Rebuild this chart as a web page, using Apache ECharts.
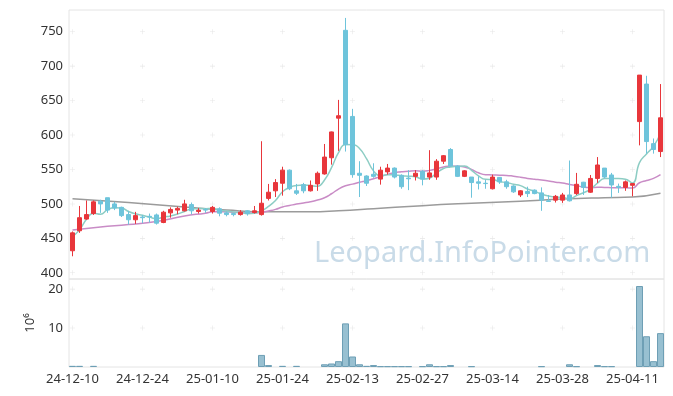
<!DOCTYPE html>
<html><head><meta charset="utf-8">
<script src="https://cdn.jsdelivr.net/npm/echarts@6/dist/echarts.min.js"></script>
<style>html,body{margin:0;padding:0;background:#fff}#c{width:673px;height:396px}</style>
</head><body><div id="c"></div>
<script>
const dates = ['24-12-10','24-12-11','24-12-12','24-12-13','24-12-16','24-12-17','24-12-18','24-12-19','24-12-20','24-12-23',
'24-12-24','24-12-26','24-12-27','24-12-30','25-01-02','25-01-03','25-01-06','25-01-07','25-01-08','25-01-09',
'25-01-10','25-01-13','25-01-14','25-01-15','25-01-16','25-01-17','25-01-20','25-01-21','25-01-22','25-01-23',
'25-01-24','25-01-31','25-02-03','25-02-04','25-02-05','25-02-06','25-02-07','25-02-10','25-02-11','25-02-12',
'25-02-13','25-02-14','25-02-17','25-02-18','25-02-19','25-02-20','25-02-21','25-02-24','25-02-25','25-02-26',
'25-02-27','25-02-28','25-03-04','25-03-05','25-03-06','25-03-07','25-03-10','25-03-11','25-03-12','25-03-13',
'25-03-14','25-03-17','25-03-18','25-03-19','25-03-20','25-03-21','25-03-24','25-03-25','25-03-26','25-03-27',
'25-03-28','25-03-31','25-04-01','25-04-02','25-04-03','25-04-04','25-04-07','25-04-08','25-04-09','25-04-10',
'25-04-11','25-04-14','25-04-15','25-04-16','25-04-17'];

const opens = [432,461,478,486,504,509,500,495,484.5,477,
481,482,484,473,487,491,490,499,489,492,
489,493,487,486,484.5,490,487.5,484.5,508,519,
530,549,519,528,519,529,543.5,567,624.5,752,
627,544.5,540.5,543,536,546.5,552,541.5,537.5,540,
547.5,539,539,562,579,555,540,539,532,530,
522,538.5,532,526,513,518,520,516,504.5,505.5,
505.5,513,515,531.5,517,537,552,542,525.5,524,
527,619.5,674,587.5,576];
const closes = [458,480,484.5,503,500,491,494,483,477,483,
480,481,472,488,492,493.5,500,490,491,491,
495,486.5,484.5,484.5,488,486,490,501,517,531,
549,522,515.5,519,527,544.5,568,604.5,628,586,
542.5,541.5,530,540,549,552,539,525,536.5,544.5,
536,545,562,570,555,540,548,531,530,529.5,
539,532,525,517.5,519,515,515,505.5,503.5,511,
513,504.5,528.5,524,537,556.5,539,527.5,524,532,
529.5,687,590.5,579,625];
const lows = [424,458,477,484,487,487,491,481,470,471,
472,473,470,472,480,485,489,485,486,487,
486,482,482,482,483,483,486,483,505,510,
512,520,513,515.5,518,519,542.5,557,577,576,
538,510,526,538,528,542.5,537,522,520,534,
527,535,535,558,554,539,539,509,521,522,
521,529,522,516,510,510,514,490,503,502,
501.5,503.5,513,513,516,530.5,537,509,516,519,
511,585,573,573,568];
const highs = [460,497,505,505,506,509,503,496,490,488.5,
484,486,486,490,495,496,506,502,494,494,
497,495,489,487,491,491,497,591,529,536,
554,550,529,530.5,534,547,587,605,651,770,
638,562,541.6,559,554,558,553,543,549,549,
549,578,565,571,581,556,549,539,540,535,
542.5,539,535,527,520,525,521,524,513,513,
516,563,545,532,542,568,552,545,529.5,534,
530,687,686,595,674];
const volumes = [0.3,0.3,0,0.3,0,0,0,0,0,0,
0,0,0,0,0,0,0,0,0,0,
0,0,0,0,0,0,0,3.1,0.5,0,
0.3,0,0.3,0,0,0,0.7,0.9,1.5,11.2,
2.7,0.7,0.3,0.5,0.2,0.2,0.2,0.2,0.2,0,
0.2,0.7,0.2,0.2,0.5,0,0,0.2,0,0,
0,0,0,0,0,0,0,0.2,0,0,
0,0.7,0.2,0,0,0.5,0.2,0.2,0,0,
0,20.8,7.9,1.5,8.7];
const ma5Head = [[0,452.6],[1,462.3],[2,477.8],[3,486.5]];
const ma20Head = [[0,462],[4,466.5],[8,470],[12,474.5],[16,482.5]];
const maLongPoints = [[0,507.5],[8,502],[16,495.5],[22,491],[28,488.5],[34,488.5],[38,490],[43,493],[50,497.5],[57,501],[64,504],[70,507],[76,509],[80,510],[84,515.5]];
const priceTicks = [400,450,500,550,600,650,700,750];
const volumeTicks = [10,20];
const labelStep = 10;

function movingAvg(n, head) {
  const out = head.slice();
  for (let i = n - 1; i < closes.length; i++) {
    let s = 0;
    for (let k = i - n + 1; k <= i; k++) s += closes[k];
    out.push([i, s / n]);
  }
  return out;
}
const candleData = dates.map((d, i) => [opens[i], closes[i], lows[i], highs[i]]);
const volumeData = volumes.map(v => v > 0 ? v : '-');
const crossIdx = dates.map((d, i) => i).filter(i => i % labelStep === 0);
const priceCross = [];
crossIdx.forEach(i => priceTicks.forEach(v => priceCross.push([i, v])));
const volCross = [];
crossIdx.forEach(i => volumeTicks.forEach(v => volCross.push([i, v])));
const plus = 'path://M4,0h1v9h-1zM0,4h9v1h-9z';
const font = 'Noto Sans';

const chart = echarts.init(document.getElementById('c'));
chart.setOption({
  animation: false,
  backgroundColor: '#ffffff',
  grid: [
    {left: 69, right: 9, top: 10, height: 269, show: true, borderColor: '#e4e4e4', borderWidth: 1},
    {left: 69, right: 9, top: 279, height: 88, show: true, borderColor: '#e4e4e4', borderWidth: 1}
  ],
  xAxis: [
    {type: 'category', data: dates, gridIndex: 0, boundaryGap: true,
     axisLine: {show: false}, axisTick: {show: false}, axisLabel: {show: false}, splitLine: {show: false}},
    {type: 'category', data: dates, gridIndex: 1, boundaryGap: true,
     axisLine: {show: false}, axisTick: {show: false}, splitLine: {show: false},
     axisLabel: {interval: labelStep - 1, color: '#333', fontSize: 13, fontFamily: font, margin: 6}}
  ],
  yAxis: [
    {type: 'value', gridIndex: 0, min: 391, max: 781.5, scale: true,
     axisLine: {show: false}, axisTick: {show: false}, splitLine: {show: false},
     axisLabel: {customValues: priceTicks, color: '#333', fontSize: 13, fontFamily: font, margin: 6}},
    {type: 'value', gridIndex: 1, min: 0, max: 22.6,
     axisLine: {show: false}, axisTick: {show: false}, splitLine: {show: false},
     axisLabel: {customValues: volumeTicks, color: '#333', fontSize: 13, fontFamily: font, margin: 6},
     name: '10⁶', nameLocation: 'middle', nameRotate: 90, nameGap: 31,
     nameTextStyle: {color: '#333', fontSize: 13, fontFamily: font}}
  ],
  graphic: [{type: 'text', left: 314, top: 239, z: 0, silent: true,
    style: {text: 'Leopard.InfoPointer.com', fill: '#c9dbe8', font: '29px "Noto Sans"'}}],
  series: [
    {type: 'scatter', xAxisIndex: 0, yAxisIndex: 0, data: priceCross, symbol: plus, symbolSize: 5,
     itemStyle: {color: '#e0e0e0'}, silent: true, z: 1},
    {type: 'scatter', xAxisIndex: 1, yAxisIndex: 1, data: volCross, symbol: plus, symbolSize: 5,
     itemStyle: {color: '#e0e0e0'}, silent: true, z: 1},
    {type: 'line', name: 'MA120', xAxisIndex: 0, yAxisIndex: 0, data: maLongPoints, smooth: true, symbol: 'none',
     lineStyle: {color: '#9b9b9b', width: 1.5}, z: 3},
    {type: 'line', name: 'MA20', xAxisIndex: 0, yAxisIndex: 0, data: movingAvg(20, ma20Head), smooth: true, symbol: 'none',
     lineStyle: {color: '#c98cc6', width: 1.5}, z: 3},
    {type: 'line', name: 'MA5', xAxisIndex: 0, yAxisIndex: 0, data: movingAvg(5, ma5Head), smooth: true, symbol: 'none',
     lineStyle: {color: '#8dcdc4', width: 1.5}, z: 3},
    {type: 'candlestick', xAxisIndex: 0, yAxisIndex: 0, data: candleData, barWidth: 5, z: 4,
     itemStyle: {color: '#e8363b', color0: '#6ec4db', borderColor: '#e8363b', borderColor0: '#6ec4db', borderWidth: 1}},
    {type: 'bar', xAxisIndex: 1, yAxisIndex: 1, data: volumeData, barWidth: '100%',
     itemStyle: {color: '#98c0d1', borderColor: '#6e9fb5', borderWidth: 1}}
  ]
});
</script></body></html>
